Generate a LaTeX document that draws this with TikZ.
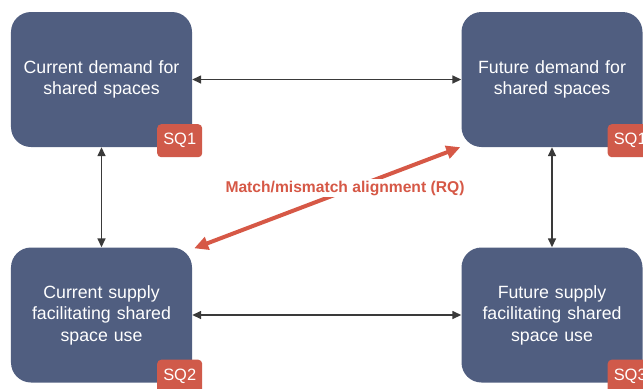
\documentclass[tikz,border=0pt]{standalone}
\usepackage{fontspec}
\setmainfont{Liberation Sans}
\usetikzlibrary{arrows.meta,calc}
\definecolor{boxblue}{RGB}{80,94,128}
\definecolor{badgered}{RGB}{208,90,74}
\definecolor{linkgray}{RGB}{58,58,58}
\definecolor{rqred}{RGB}{214,88,70}
\begin{document}
\begin{tikzpicture}[x=1bp,y=-1bp,
  quadbox/.style={rectangle, rounded corners=20bp, fill=boxblue,
    minimum width=181bp, minimum height=135bp, text width=170bp,
    align=center, text=white, inner sep=0pt,
    font=\fontsize{17.8}{21.5}\selectfont},
  sqbadge/.style={rectangle, rounded corners=4bp, fill=badgered,
    minimum width=45bp, minimum height=33bp, inner sep=0pt, text=white,
    font=\fontsize{16.5}{18}\selectfont},
  link/.style={draw=linkgray, line width=1.5bp,
    {Triangle[length=9bp,width=8bp]}-{Triangle[length=9bp,width=8bp]}},
  rqlink/.style={draw=rqred, line width=4bp,
    {Triangle[length=14bp,width=13bp]}-{Triangle[length=14bp,width=13bp]}},
  rqlabel/.style={fill=white, inner sep=1.5bp, text=rqred,
    font=\fontsize{15.7}{18}\selectfont\bfseries}]
\useasboundingbox (0,0) rectangle (643,388);
\clip (0,0) rectangle (643,388);

% the four quadrants
\node[quadbox] (cd) at (101.5,79.5) {Current demand for\\shared spaces};
\node[quadbox] (fd) at (552,79.5) {Future demand for\\shared spaces};
\node[quadbox] (cs) at (101.5,315) {Current supply\\facilitating shared\\space use};
\node[quadbox] (fs) at (552,315) {Future supply\\facilitating shared\\space use};

% sub-question tags
\node[sqbadge] (sq1a) at ([shift={(-12.5,-6.5)}]cd.south east) {SQ1};
\node[sqbadge] (sq1b) at ([shift={(-12.5,-6.5)}]fd.south east) {SQ1};
\node[sqbadge] (sq2) at ([shift={(-12.5,-6.5)}]cs.south east) {SQ2};
\node[sqbadge] (sq3) at ([shift={(-12.5,-6.5)}]fs.south east) {SQ3};

% connectors between quadrants
\draw[link] (cd) -- (fd);
\draw[link] (cs) -- (fs);
\draw[link] (cd) -- (cs);
\draw[link] (fd) -- (fs);

% research question diagonal
\coordinate (rqa) at ([shift={(2,1)}]cs.north east);
\coordinate (rqb) at ([shift={(-1,0)}]fd.south west);
\draw[rqlink] (rqa) -- (rqb);
\node[rqlabel] (rq) at (345,188) {Match/mismatch alignment (RQ)};
\end{tikzpicture}
\end{document}
